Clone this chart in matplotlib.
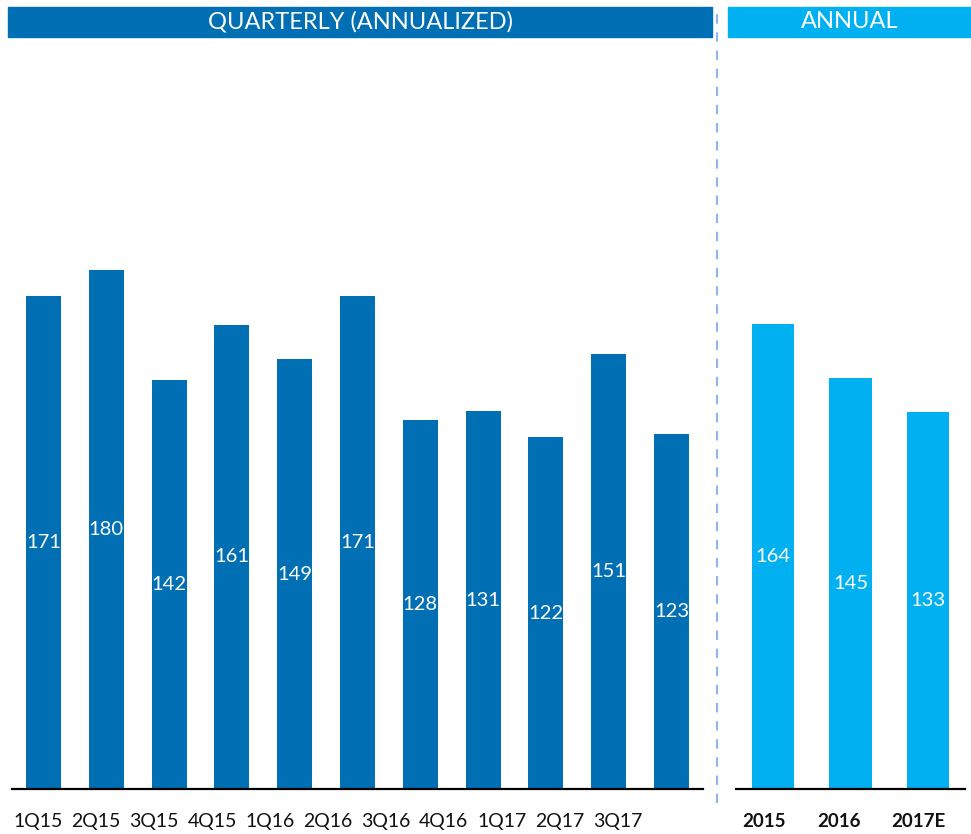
import numpy as np
import matplotlib.pyplot as plt
from matplotlib.patches import Rectangle
from matplotlib.lines import Line2D

plt.rcParams['font.family'] = ['Lato', 'DejaVu Sans']

# --- datos ---
trimestres = ["1Q15", "2Q15", "3Q15", "4Q15", "1Q16", "2Q16", "3Q16",
              "4Q16", "1Q17", "2Q17", "3Q17"]
valores_trim = [171, 180, 142, 161, 149, 171, 128, 131, 122, 151, 123]

anios = ["2015", "2016", "2017E"]
valores_anual = [164, 145, 133]

AZUL = "#006FB4"
CELESTE = "#00B0F0"
GUIA = "#8FB4F2"

W, H = 971, 834
fig = plt.figure(figsize=(W / 100, H / 100), dpi=100)

def px_box(x0, y0, x1, y1):
    # caja en pixeles (origen arriba-izquierda) -> fracciones de figura
    return [x0 / W, 1 - y1 / H, (x1 - x0) / W, (y1 - y0) / H]

ax_q = fig.add_axes(px_box(12, 40, 703, 789))
ax_a = fig.add_axes(px_box(736, 40, 965, 789))

def dibuja(ax, vals, color, ymax, ancho):
    x = np.arange(len(vals))
    barras = ax.bar(x, vals, width=ancho, color=color, zorder=2)
    for b, v in zip(barras, vals):
        ax.text(b.get_x() + b.get_width() / 2, v / 2, str(v), color="white",
                ha="center", va="center", fontsize=14.5)
    ax.set_xlim(-0.5, len(vals) - 0.5)
    ax.set_ylim(0, ymax)
    ax.set_yticks([])
    for s in ["top", "left", "right"]:
        ax.spines[s].set_visible(False)
    ax.spines["bottom"].set_linewidth(1.6)
    ax.spines["bottom"].set_color("black")
    ax.tick_params(axis="x", length=0, pad=17)

dibuja(ax_q, valores_trim, AZUL, 749 / 2.883, 0.556)
dibuja(ax_a, valores_anual, CELESTE, 749 / 2.837, 0.55)
ax_a.set_xlim(-0.48, 2.48)

# las etiquetas del eje van algo corridas respecto de las barras
ax_q.set_xticks(np.arange(len(trimestres)) * 0.922 - 0.08)
ax_q.set_xticklabels(trimestres, fontsize=14, color="#111111")
ax_a.set_xticks([-0.12, 0.845, 1.877])
ax_a.set_xticklabels(anios, fontsize=13.5, fontweight="bold", color="#111111")

# --- encabezados ---
for (x0, x1, color, texto) in [(8, 712, AZUL, "QUARTERLY (ANNUALIZED)"),
                               (728, 971, CELESTE, "ANNUAL")]:
    b = px_box(x0, 7, x1, 37)
    fig.patches.append(Rectangle((b[0], b[1]), b[2], b[3], transform=fig.transFigure,
                                 color=color, zorder=0))
    fig.text(b[0] + b[2] / 2, b[1] + b[3] / 2, texto, color="white",
             ha="center", va="center", fontsize=17)

# --- separador punteado ---
xs = 716.5 / W
fig.lines.append(Line2D([xs, xs], [1 - 803 / H, 1 - 8 / H], transform=fig.transFigure,
                        color=GUIA, lw=1.5, linestyle=(0, (4.5, 4.2))))

fig.savefig("out.png", dpi=100)
